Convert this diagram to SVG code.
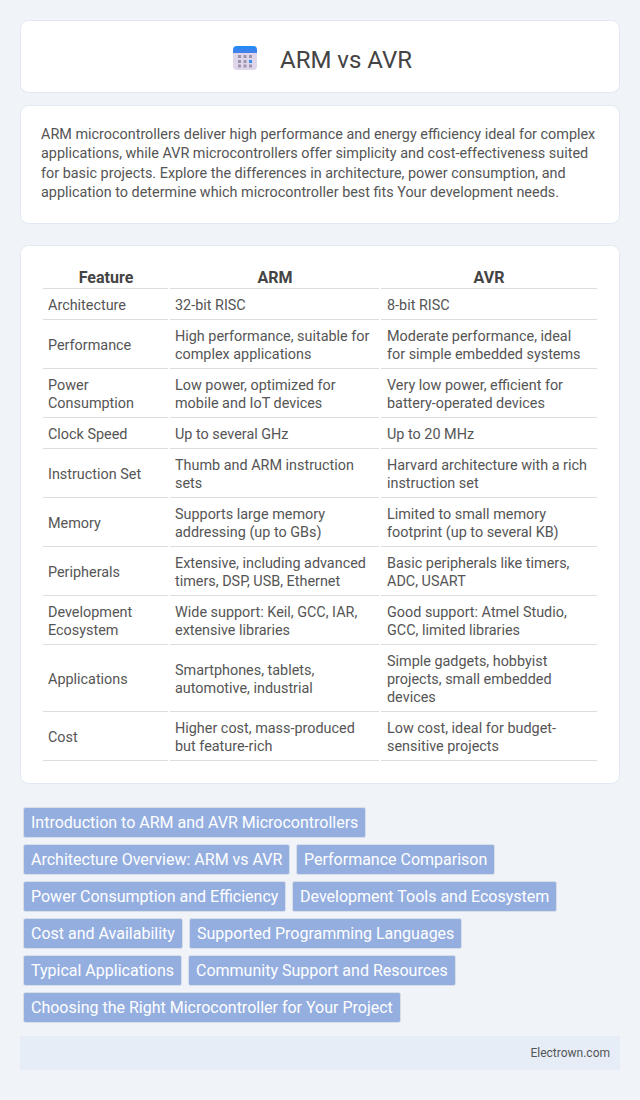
<svg xmlns="http://www.w3.org/2000/svg" width="640" height="1100" viewBox="0 0 640 1100">
<defs><linearGradient id="ib" x1="0" y1="0" x2="0" y2="1"><stop offset="0" stop-color="#1f8cf8"/><stop offset="1" stop-color="#4a7fe8"/></linearGradient></defs>
<style>
text{font-family:Roboto,"Liberation Sans",sans-serif}
.card{fill:#fff;stroke:#e2e8f0;stroke-width:1}
.h{font-size:16px;font-weight:700;fill:#444;text-anchor:middle}
.c{font-size:14.4px;fill:#555}
.p{font-size:14.4px;fill:#555}
.l{fill:none;stroke:#ddd;stroke-width:1}
.t{fill:#94aee0;stroke:#d9dfe8;stroke-width:1}
.tt{font-size:16px;fill:#fff}
</style>
<rect width="640" height="1100" fill="#f0f4f9"/>
<g id="header">
<rect class="card" x="20.500" y="20.500" width="599" height="72" rx="8"/>
<g id="icon">
<rect x="233" y="46" width="24" height="24" rx="4" fill="#e0d6ea"/>
<path d="M233 53V50a4 4 0 0 1 4-4h16a4 4 0 0 1 4 4v3z" fill="url(#ib)"/>
<g fill="#9d94ad"><rect x="238" y="55" width="3" height="3"/><rect x="243.500" y="55" width="3" height="3"/><rect x="249" y="55" width="3" height="3"/><rect x="238" y="60" width="3" height="3"/><rect x="243.500" y="60" width="3" height="3"/><rect x="249" y="60" width="3" height="3" fill="#2e8ff5"/><rect x="238" y="64.500" width="3" height="3"/><rect x="243.500" y="64.500" width="3" height="3"/><rect x="249" y="64.500" width="3" height="3"/></g>
</g>
<text x="280" y="68" font-size="24" fill="#444">ARM vs AVR</text>
</g>
<g id="intro">
<rect class="card" x="20.500" y="105.500" width="599" height="118" rx="8"/>
<text class="p" x="41" y="139">ARM microcontrollers deliver high performance and energy efficiency ideal for complex</text>
<text class="p" x="41" y="158">applications, while AVR microcontrollers offer simplicity and cost-effectiveness suited</text>
<text class="p" x="41" y="178">for basic projects. Explore the differences in architecture, power consumption, and</text>
<text class="p" x="41" y="197">application to determine which microcontroller best fits Your development needs.</text>
</g>
<g id="table">
<rect class="card" x="20.500" y="245.500" width="599" height="538" rx="8"/>
<text class="h" x="106" y="283">Feature</text><text class="h" x="275" y="283">ARM</text><text class="h" x="489" y="283">AVR</text>
<g id="rules">
<path class="l" d="M43 288.500H168M170 288.500H379M381 288.500H597M43 319.500H168M170 319.500H379M381 319.500H597M43 368.500H168M170 368.500H379M381 368.500H597M43 417.500H168M170 417.500H379M381 417.500H597M43 448.500H168M170 448.500H379M381 448.500H597M43 497.500H168M170 497.500H379M381 497.500H597M43 546.500H168M170 546.500H379M381 546.500H597M43 595.500H168M170 595.500H379M381 595.500H597M43 644.500H168M170 644.500H379M381 644.500H597M43 711.500H168M170 711.500H379M381 711.500H597M43 760.500H168M170 760.500H379M381 760.500H597"/>
</g>
<text class="c" x="48" y="310">Architecture</text><text class="c" x="175" y="310">32-bit RISC</text><text class="c" x="387" y="310">8-bit RISC</text>
<text class="c" x="48" y="350">Performance</text><text class="c" x="175" y="341">High performance, suitable for</text><text class="c" x="175" y="359">complex applications</text><text class="c" x="387" y="341">Moderate performance, ideal</text><text class="c" x="387" y="359">for simple embedded systems</text>
<text class="c" x="48" y="390">Power</text><text class="c" x="48" y="408">Consumption</text><text class="c" x="175" y="390">Low power, optimized for</text><text class="c" x="175" y="408">mobile and IoT devices</text><text class="c" x="387" y="390">Very low power, efficient for</text><text class="c" x="387" y="408">battery-operated devices</text>
<text class="c" x="48" y="439">Clock Speed</text><text class="c" x="175" y="439">Up to several GHz</text><text class="c" x="387" y="439">Up to 20 MHz</text>
<text class="c" x="48" y="479">Instruction Set</text><text class="c" x="175" y="470">Thumb and ARM instruction</text><text class="c" x="175" y="488">sets</text><text class="c" x="387" y="470">Harvard architecture with a rich</text><text class="c" x="387" y="488">instruction set</text>
<text class="c" x="48" y="528">Memory</text><text class="c" x="175" y="519">Supports large memory</text><text class="c" x="175" y="537">addressing (up to GBs)</text><text class="c" x="387" y="519">Limited to small memory</text><text class="c" x="387" y="537">footprint (up to several KB)</text>
<text class="c" x="48" y="577">Peripherals</text><text class="c" x="175" y="568">Extensive, including advanced</text><text class="c" x="175" y="586">timers, DSP, USB, Ethernet</text><text class="c" x="387" y="568">Basic peripherals like timers,</text><text class="c" x="387" y="586">ADC, USART</text>
<text class="c" x="48" y="617">Development</text><text class="c" x="48" y="635">Ecosystem</text><text class="c" x="175" y="617">Wide support: Keil, GCC, IAR,</text><text class="c" x="175" y="635">extensive libraries</text><text class="c" x="387" y="617">Good support: Atmel Studio,</text><text class="c" x="387" y="635">GCC, limited libraries</text>
<text class="c" x="48" y="684">Applications</text><text class="c" x="175" y="675">Smartphones, tablets,</text><text class="c" x="175" y="693">automotive, industrial</text><text class="c" x="387" y="666">Simple gadgets, hobbyist</text><text class="c" x="387" y="684">projects, small embedded</text><text class="c" x="387" y="702">devices</text>
<text class="c" x="48" y="742">Cost</text><text class="c" x="175" y="733">Higher cost, mass-produced</text><text class="c" x="175" y="751">but feature-rich</text><text class="c" x="387" y="733">Low cost, ideal for budget-</text><text class="c" x="387" y="751">sensitive projects</text>
</g>
<g id="tags">
<rect class="t" x="23.500" y="807.500" width="342" height="30" rx="2"/><text class="tt" x="31" y="828">Introduction to ARM and AVR Microcontrollers</text>
<rect class="t" x="23.500" y="844.500" width="266" height="30" rx="2"/><text class="tt" x="31" y="865">Architecture Overview: ARM vs AVR</text>
<rect class="t" x="296.500" y="844.500" width="198" height="30" rx="2"/><text class="tt" x="304" y="865">Performance Comparison</text>
<rect class="t" x="23.500" y="881.500" width="262" height="30" rx="2"/><text class="tt" x="31" y="902">Power Consumption and Efficiency</text>
<rect class="t" x="292.500" y="881.500" width="264" height="30" rx="2"/><text class="tt" x="300" y="902">Development Tools and Ecosystem</text>
<rect class="t" x="23.500" y="918.500" width="159" height="30" rx="2"/><text class="tt" x="31" y="939">Cost and Availability</text>
<rect class="t" x="189.500" y="918.500" width="272" height="30" rx="2"/><text class="tt" x="197" y="939">Supported Programming Languages</text>
<rect class="t" x="23.500" y="955.500" width="158" height="30" rx="2"/><text class="tt" x="31" y="976">Typical Applications</text>
<rect class="t" x="188.500" y="955.500" width="267" height="30" rx="2"/><text class="tt" x="196" y="976">Community Support and Resources</text>
<rect class="t" x="23.500" y="992.500" width="377" height="30" rx="2"/><text class="tt" x="31" y="1013">Choosing the Right Microcontroller for Your Project</text>
</g>
<g id="footer">
<rect x="20" y="1036" width="600" height="34" fill="#e6edf7"/>
<text x="610" y="1057" font-size="12" fill="#555" text-anchor="end">Electrown.com</text>
</g>
</svg>
